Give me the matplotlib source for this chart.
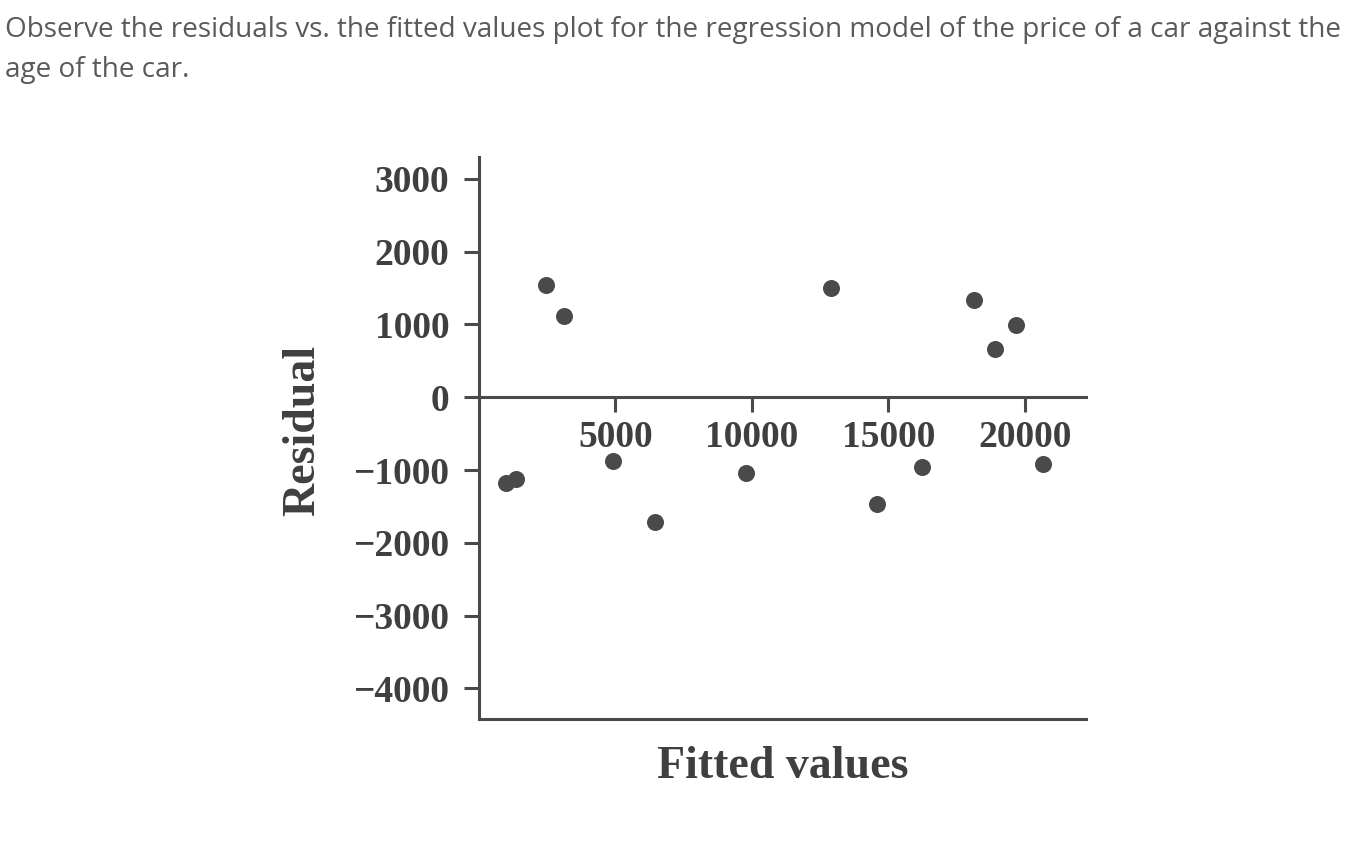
import matplotlib
matplotlib.use("Agg")
import matplotlib.pyplot as plt

fitted = [1007, 1348, 2447, 3117, 4901, 6465, 9799, 12912, 14582, 16245, 18150, 18919, 19689, 20689]
residual = [-1172, -1130, 1542, 1122, -879, -1713, -1044, 1501, -1470, -962, 1332, 663, 999, -920]
xticks = [5000, 10000, 15000, 20000]
yticks = [3000, 2000, 1000, 0, -1000, -2000, -3000, -4000]
title_lines = ["Observe the residuals vs. the fitted values plot for the regression model of the price of a car against the",
               "age of the car."]

W, H = 1368, 857
fig = plt.figure(figsize=(W / 100, H / 100), dpi=100)
fig.patch.set_facecolor("white")

tcol = "#5a5a5a"
fig.text(5 / W, 1 - 37 / H, title_lines[0], family="Open Sans", fontsize=20.1, color=tcol, va="baseline", ha="left")
fig.text(5 / W, 1 - 77 / H, title_lines[1], family="Open Sans", fontsize=20.1, color=tcol, va="baseline", ha="left")

ax = fig.add_axes([479 / W, (H - 719) / H, (1086 - 479) / W, (719 - 157) / H])
dark = "#4a4a4a"
ax.scatter(fitted, residual, s=150, color=dark, zorder=3, linewidths=0)
ax.set_xlim(0, 22250)
ax.set_ylim(-4420, 3300)

for s in ["left", "bottom", "top"]:
    ax.spines[s].set_linewidth(2.2)
    ax.spines[s].set_color(dark)
ax.spines["right"].set_visible(False)
ax.spines["bottom"].set_position(("data", 0))
ax.spines["top"].set_position(("axes", 0))

serif = "Liberation Serif"
ax.set_xticks(xticks)
ax.set_xticklabels([str(v) for v in xticks])
ax.set_yticks(yticks)
ax.set_yticklabels([("\u2212" + str(-v)) if v < 0 else str(v) for v in yticks])
ax.tick_params(axis="x", direction="out", length=10.5, width=2.2, color=dark, pad=6, top=False)
ax.tick_params(axis="y", direction="out", length=10.5, width=2.2, color=dark, pad=11)
for lab in ax.get_xticklabels() + ax.get_yticklabels():
    lab.set_family(serif)
    lab.set_fontweight("bold")
    lab.set_fontsize(27)
    lab.set_color("#3f3f3f")

ax.set_xlabel("Fitted values", family=serif, fontweight="bold", fontsize=33, color="#3f3f3f")
ax.xaxis.set_label_coords(0.5, (719 - 778) / 562)
ax.xaxis.label.set_va("baseline")
ax.set_ylabel("Residual", family=serif, fontweight="bold", fontsize=33, color="#3f3f3f")
ax.yaxis.set_label_coords((314 - 479) / 607, (719 - 430) / 562)
ax.yaxis.label.set_va("baseline")

fig.savefig("out.png", dpi=100, facecolor="white")
